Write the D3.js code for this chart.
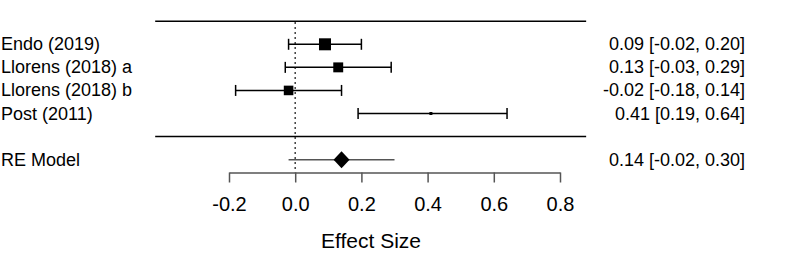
<!DOCTYPE html>
<html>
<head>
<meta charset="utf-8">
<script src="https://cdn.jsdelivr.net/npm/d3@7"></script>
<style>
	body { margin: 0; background: #fff; }
	text { font-family: "Liberation Sans", Arial, Helvetica, sans-serif; }
</style>
</head>
<body>
<div id="chart"></div>
<script>
// Study data
const studies = ["Endo (2019)", "Llorens (2018) a", "Llorens (2018) b", "Post (2011)"]
const estimates = [0.09, 0.13, -0.02, 0.41]
const lowers = [-0.02, -0.03, -0.18, 0.19]
const uppers = [0.20, 0.29, 0.14, 0.64]
const weights = [34, 28, 27, 8]

// Random-effects summary
const summaryLabel = "RE Model"
const summaryEst = 0.14
const summaryLower = -0.02
const summaryUpper = 0.30

const tickValues = [-0.2, 0.0, 0.2, 0.4, 0.6, 0.8]
const xTitle = "Effect Size"

const width = 791
const height = 273

const svg = d3
	.select("#chart")
	.append("svg")
	.attr("width", width)
	.attr("height", height)

// x: effect size, y: row number (studies k..1, line at 0, summary at -1)
const xScale = d3.scaleLinear().domain([-0.2, 0.8]).range([229, 560])
const yScale = d3.scaleLinear().domain([4, 1]).range([44.3, 113.5])
const sizeScale = d3
	.scaleLinear()
	.domain([d3.min(weights), d3.max(weights)])
	.range([3, 12])

const rows = studies.map((s, i) => ({
	label: s,
	est: estimates[i],
	lo: lowers[i],
	hi: uppers[i],
	w: weights[i],
	row: studies.length - i,
}))

const fmt = (v) => v.toFixed(2)
const xMin = -0.423
const xMax = 0.879

// horizontal rules at top and above summary
svg.selectAll(".rule")
	.data([studies.length + 1, 0])
	.enter()
	.append("line")
	.attr("class", "rule")
	.attr("x1", xScale(xMin))
	.attr("x2", xScale(xMax))
	.attr("y1", (d) => yScale(d))
	.attr("y2", (d) => yScale(d))
	.attr("stroke", "#000")
	.attr("stroke-width", 1.5)

// dotted reference line at 0
svg.append("line")
	.attr("x1", xScale(0))
	.attr("x2", xScale(0))
	.attr("y1", yScale(studies.length + 1) + 1)
	.attr("y2", 172.5)
	.attr("stroke", "#000")
	.attr("stroke-width", 1.5)
	.attr("stroke-dasharray", "1.5,3.5")

// confidence intervals
const ci = svg.selectAll(".ci").data(rows).enter().append("g").attr("class", "ci")

ci.append("line")
	.attr("x1", (d) => xScale(d.lo))
	.attr("x2", (d) => xScale(d.hi))
	.attr("y1", (d) => yScale(d.row))
	.attr("y2", (d) => yScale(d.row))
	.attr("stroke", "#000")
	.attr("stroke-width", 1.5)

ci.selectAll(".cap")
	.data((d) => [
		{ x: d.lo, row: d.row },
		{ x: d.hi, row: d.row },
	])
	.enter()
	.append("line")
	.attr("class", "cap")
	.attr("x1", (d) => xScale(d.x))
	.attr("x2", (d) => xScale(d.x))
	.attr("y1", (d) => yScale(d.row) - 5.5)
	.attr("y2", (d) => yScale(d.row) + 5.5)
	.attr("stroke", "#000")
	.attr("stroke-width", 1.5)

// squares sized by weight
ci.append("rect")
	.attr("x", (d) => xScale(d.est) - sizeScale(d.w) / 2)
	.attr("y", (d) => yScale(d.row) - sizeScale(d.w) / 2)
	.attr("width", (d) => sizeScale(d.w))
	.attr("height", (d) => sizeScale(d.w))
	.attr("fill", "#000")

// study labels and annotations
svg.selectAll(".label")
	.data(rows)
	.enter()
	.append("text")
	.attr("class", "label")
	.attr("x", 1)
	.attr("y", (d) => yScale(d.row) + 6)
	.style("font-size", "18px")
	.text((d) => d.label)

svg.selectAll(".annot")
	.data(rows)
	.enter()
	.append("text")
	.attr("class", "annot")
	.attr("x", 745)
	.attr("y", (d) => yScale(d.row) + 6)
	.attr("text-anchor", "end")
	.style("font-size", "18px")
	.text((d) => `${fmt(d.est)} [${fmt(d.lo)}, ${fmt(d.hi)}]`)

// summary row
const ySum = yScale(-1)
svg.append("line")
	.attr("x1", xScale(summaryLower))
	.attr("x2", xScale(summaryUpper))
	.attr("y1", ySum)
	.attr("y2", ySum)
	.attr("stroke", "#555")
	.attr("stroke-width", 1.5)

const cx = xScale(summaryEst)
svg.append("path")
	.attr(
		"d",
		`M${cx - 8},${ySum} L${cx},${ySum - 8.5} L${cx + 8},${ySum} L${cx},${ySum + 8.5} Z`
	)
	.attr("fill", "#000")

svg.append("text")
	.attr("x", 1)
	.attr("y", ySum + 6)
	.style("font-size", "18px")
	.text(summaryLabel)

svg.append("text")
	.attr("x", 745)
	.attr("y", ySum + 6)
	.attr("text-anchor", "end")
	.style("font-size", "18px")
	.text(`${fmt(summaryEst)} [${fmt(summaryLower)}, ${fmt(summaryUpper)}]`)

// x axis
const axis = svg
	.append("g")
	.attr("transform", "translate(0,172.5)")
	.call(
		d3
			.axisBottom(xScale)
			.tickValues(tickValues)
			.tickFormat((d) => d.toFixed(1))
			.tickSize(10)
			.tickSizeOuter(0)
			.tickPadding(14)
	)

axis.select(".domain").attr("stroke", "#555").attr("stroke-width", 1.5)
axis.selectAll(".tick line").attr("stroke", "#555").attr("stroke-width", 1.5)
axis.selectAll(".tick text")
	.attr("fill", "#000")
	.style("font-size", "20px")
	.style("font-family", '"Liberation Sans", Arial, Helvetica, sans-serif')

svg.append("text")
	.attr("x", 371)
	.attr("y", 248)
	.attr("text-anchor", "middle")
	.style("font-size", "21px")
	.text(xTitle)
</script>
</body>
</html>
